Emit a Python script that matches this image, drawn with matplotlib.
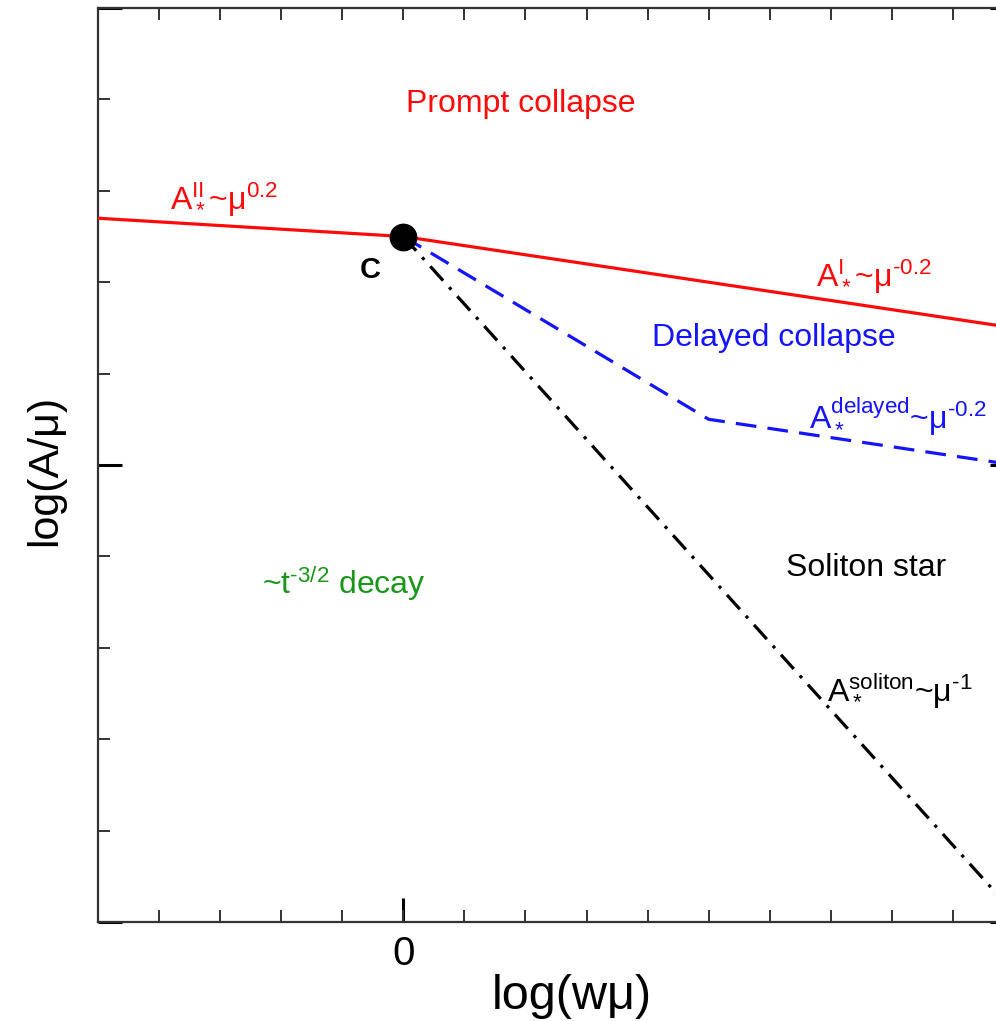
import matplotlib
matplotlib.use("Agg")
import matplotlib.pyplot as plt
import matplotlib.ticker as ticker

plt.rcParams["font.family"] = ["Liberation Sans", "DejaVu Sans"]
plt.rcParams["mathtext.fontset"] = "custom"
plt.rcParams["mathtext.rm"] = "Liberation Sans"
plt.rcParams["mathtext.it"] = "Liberation Sans"
plt.rcParams["mathtext.default"] = "regular"

# ── Phase-boundary curves (log-log, arbitrary units) ─────────────────────────
C_POINT = (0.0, 7.5)

prompt_x = [-5.0, 0.0, 10.0]
prompt_y = [7.7, 7.5, 6.5]

delayed_x = [0.0, 5.0, 10.0]
delayed_y = [7.5, 5.5, 5.0]

soliton_x = [0.0, 10.0]
soliton_y = [7.5, 0.1]

X_RANGE = (-5.0, 10.0)
Y_RANGE = (0.0, 10.0)
X_MAJOR = [0.0]
Y_MAJOR = [0.0, 5.0, 10.0]

RED = "#ff0a0a"
BLUE = "#1414ff"
GREEN = "#1a961a"
FS = 23
HY = "\u2010"  # plain hyphen for exponents

W, H = 996, 1021
fig = plt.figure(figsize=(W / 100, H / 100), dpi=100)
# right spine sits just past the canvas edge
ax = fig.add_axes([98 / W, (H - 922) / H, (1014 - 98) / W, 914 / H])

ax.plot(prompt_x, prompt_y, color=RED, lw=2.3, solid_capstyle="butt", zorder=3)
ax.plot(delayed_x, delayed_y, color=BLUE, lw=2.3, dashes=(6.5, 3.5), zorder=3)
ax.plot(soliton_x, soliton_y, color="black", lw=2.3, dashes=(6, 2.8, 1, 2.8), zorder=3)
ax.plot(*C_POINT, "o", color="black", ms=19, zorder=5)

ax.set_xlim(*X_RANGE)
ax.set_ylim(*Y_RANGE)

ax.xaxis.set_major_locator(ticker.FixedLocator(X_MAJOR))
ax.xaxis.set_minor_locator(ticker.MultipleLocator(1))
ax.xaxis.remove_overlapping_locs = False
ax.yaxis.set_major_locator(ticker.FixedLocator(Y_MAJOR))
ax.yaxis.set_minor_locator(ticker.MultipleLocator(1))
ax.xaxis.set_major_formatter(ticker.FuncFormatter(lambda v, _: f"{v:.0f}"))
ax.yaxis.set_major_formatter(ticker.NullFormatter())

ax.tick_params(which="both", direction="in", top=True, right=True)
ax.tick_params(which="major", length=17, width=2.2, color="black",
               labelsize=29, pad=9)
ax.tick_params(axis="x", which="major", top=False)
ax.tick_params(which="minor", length=8.5, width=1.4, color="#333333")
for sp in ax.spines.values():
    sp.set_linewidth(1.6)
    sp.set_color("#333333")

# region and scaling labels
ax.text(1.92, 8.95, "Prompt collapse", color=RED, fontsize=FS, ha="center", va="center")
ax.text(-3.82, 7.81, r"$A_*^{II}$~$μ^{0.2}$", color=RED, fontsize=FS, ha="left", va="baseline")
ax.text(-0.54, 7.13, "C", color="black", fontsize=21, fontweight="bold", ha="center", va="center")
ax.text(6.75, 6.97, rf"$A_*^{{I}}$~$μ^{{{HY}0.2}}$", color=RED, fontsize=FS, ha="left", va="baseline")
ax.text(4.08, 6.39, "Delayed collapse", color=BLUE, fontsize=FS, ha="left", va="center")
ax.text(6.64, 5.40, rf"$A_*^{{delayed}}$~$μ^{{{HY}0.2}}$", color=BLUE, fontsize=FS, ha="left", va="baseline")
ax.text(6.26, 3.87, "Soliton star", color="black", fontsize=FS, ha="left", va="center")
ax.text(-2.31, 3.59, rf"~$t^{{{HY}3/2}}$ decay", color=GREEN, fontsize=FS, ha="left", va="baseline")
ax.text(6.93, 2.43, rf"$A_*^{{soliton}}$~$μ^{{{HY}1}}$", color="black", fontsize=FS, ha="left", va="baseline")

fig.text(572 / W, 1 - 996 / H, "log(wμ)", fontsize=35, ha="center", va="center")
fig.text(45 / W, 1 - 470 / H, "log(A/μ)", fontsize=31, rotation=90, ha="center", va="center")

fig.savefig("out.png", dpi=100)
